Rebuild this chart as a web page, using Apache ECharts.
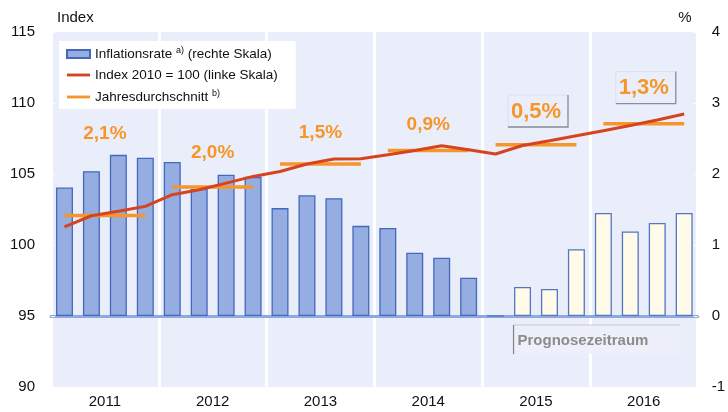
<!DOCTYPE html>
<html>
<head>
<meta charset="utf-8">
<script src="https://cdn.jsdelivr.net/npm/echarts@6/dist/echarts.min.js"></script>
<style>
  html, body { margin: 0; padding: 0; background: #fff; }
  #chart { width: 728px; height: 412px; }
</style>
</head>
<body>
<div id="chart"></div>
<script>
// Quartale 2011 - 2016
var quarters = [
  '2011 Q1', '2011 Q2', '2011 Q3', '2011 Q4',
  '2012 Q1', '2012 Q2', '2012 Q3', '2012 Q4',
  '2013 Q1', '2013 Q2', '2013 Q3', '2013 Q4',
  '2014 Q1', '2014 Q2', '2014 Q3', '2014 Q4',
  '2015 Q1', '2015 Q2', '2015 Q3', '2015 Q4',
  '2016 Q1', '2016 Q2', '2016 Q3', '2016 Q4'
];
var years = ['2011', '2012', '2013', '2014', '2015', '2016'];

// Inflationsrate in % (rechte Skala)
var inflation = [1.81, 2.04, 2.27, 2.23, 2.17, 1.79, 1.99, 1.96, 1.52, 1.70, 1.66, 1.27,
                 1.24, 0.89, 0.82, 0.54, 0, 0.41, 0.38, 0.94, 1.45, 1.19, 1.31, 1.45];
// Index 2010 = 100 (linke Skala)
var indexValues = [101.27, 102.06, 102.37, 102.72, 103.54, 103.89, 104.36, 104.83,
                   105.18, 105.70, 106.05, 106.08, 106.35, 106.66, 106.99, 106.71,
                   106.41, 107.01, 107.34, 107.70, 108.05, 108.42, 108.80, 109.22];
// Jahresdurchschnitt des Index
var yearAvg = [102.08, 104.08, 105.70, 106.66, 107.06, 108.54];
var avgLabels = ['2,1%', '2,0%', '1,5%', '0,9%', '0,5%', '1,3%'];
var avgLabelAt = [107.8, 106.5, 107.9, 108.5, 109.4, 111.05]; // Höhe der Beschriftung (linke Skala)
var forecastStart = '2015 Q1';

var leftTicks = [90, 95, 100, 105, 110, 115];
var rightTicks = [-1, 0, 1, 2, 3, 4];

var FONT = 'Arial, "Liberation Sans", sans-serif';
var ORANGE = '#F6962A';
var RED = '#D6431F';
var BG = '#EAEEFA';
var LINE_ICON = 'path://M0,0h24v3h-24z';

var chart = echarts.init(document.getElementById('chart'));

var fc = quarters.indexOf(forecastStart);
var barData = inflation.map(function (v, i) {
  if (i < fc) return v;
  return { value: v, itemStyle: { color: '#FFFBE8', borderColor: '#5476C4' } };
});

// je Jahr ein waagerechter Strich
var avgSeries = years.map(function (y, i) {
  var d = quarters.map(function (q, j) {
    return Math.floor(j / 4) === i ? yearAvg[i] : null;
  });
  return {
    name: 'Jahresdurchschnitt',
    type: 'line',
    data: d,
    symbol: 'none',
    color: ORANGE,
    lineStyle: { color: ORANGE, width: 3.5 },
    z: 3
  };
});

var legendText = {
  'Inflationsrate': '{t|Inflationsrate }{s|a)}{t| (rechte Skala)}',
  'Index 2010 = 100': '{t|Index 2010 = 100 (linke Skala)}',
  'Jahresdurchschnitt': '{t|Jahresdurchschnitt }{s|b)}'
};

var option = {
  animation: false,
  textStyle: { fontFamily: FONT },
  grid: {
    left: 51, right: 27, top: 32, bottom: 25,
    show: true, backgroundColor: BG, borderWidth: 0
  },
  legend: {
    data: [
      { name: 'Inflationsrate', icon: 'rect' },
      { name: 'Index 2010 = 100', icon: LINE_ICON },
      { name: 'Jahresdurchschnitt', icon: LINE_ICON }
    ],
    orient: 'vertical',
    left: 59, top: 41,
    padding: [5, 18, 5, 7],
    backgroundColor: '#fff',
    itemWidth: 23, itemHeight: 8, itemGap: 7,
    selectedMode: false,
    formatter: function (name) { return legendText[name]; },
    textStyle: {
      rich: {
        t: { fontSize: 13.5, color: '#111', lineHeight: 16, fontFamily: FONT },
        s: { fontSize: 9, color: '#111', lineHeight: 9, verticalAlign: 'top', fontFamily: FONT }
      }
    }
  },
  xAxis: [
    {
      type: 'category',
      data: quarters,
      axisLine: { onZero: true, onZeroAxisIndex: 1, lineStyle: { color: '#8FA8DD', width: 3 } },
      axisTick: { interval: 3, length: 4, lineStyle: { color: '#8FA8DD', width: 2 } },
      axisLabel: { show: false },
      splitLine: { show: false }
    },
    {
      type: 'category',
      data: years,
      position: 'bottom',
      axisLine: { show: false },
      axisTick: { show: false },
      axisLabel: { fontSize: 15, color: '#111', margin: 7 },
      splitLine: { show: true, lineStyle: { color: '#fff', width: 3 } }
    }
  ],
  yAxis: [
    {
      type: 'value',
      min: leftTicks[0], max: leftTicks[leftTicks.length - 1], interval: 5,
      position: 'left',
      name: 'Index',
      nameGap: 14,
      nameTextStyle: { fontSize: 15, color: '#111', align: 'left', verticalAlign: 'middle', padding: [0, 0, 0, 6] },
      axisLine: { show: false },
      axisTick: { show: true, inside: true, length: 4, lineStyle: { color: '#fff' } },
      axisLabel: { fontSize: 15, color: '#111', margin: 16 },
      splitLine: { show: false }
    },
    {
      type: 'value',
      min: rightTicks[0], max: rightTicks[rightTicks.length - 1], interval: 1,
      position: 'right',
      name: '%',
      nameGap: 14,
      nameTextStyle: { fontSize: 15, color: '#111', align: 'right', verticalAlign: 'middle', padding: [0, 6, 0, 0] },
      axisLine: { show: false },
      axisTick: { show: true, inside: true, length: 4, lineStyle: { color: '#fff' } },
      axisLabel: { fontSize: 15, color: '#111', margin: 14 },
      splitLine: { show: false }
    }
  ],
  series: [
    {
      name: 'Inflationsrate',
      type: 'bar',
      xAxisIndex: 0,
      yAxisIndex: 1,
      data: barData,
      barWidth: 17,
      itemStyle: { color: '#95ADE0', borderColor: '#4468BE', borderWidth: 1.3 },
      z: 2
    }
  ].concat(avgSeries).concat([
    {
      name: 'Index 2010 = 100',
      type: 'line',
      xAxisIndex: 0,
      yAxisIndex: 0,
      data: indexValues,
      symbol: 'none',
      color: RED,
      lineStyle: { color: RED, width: 3 },
      z: 4
    }
  ])
};

chart.setOption(option);

// Prozentangaben über den Jahresdurchschnitten
var graphics = [];
years.forEach(function (y, i) {
  var cx = chart.convertToPixel({ xAxisIndex: 1 }, y);
  var cy = chart.convertToPixel({ yAxisIndex: 0 }, avgLabelAt[i]);
  var forecast = i >= Math.floor(fc / 4);
  if (forecast) {
    var bx = cx - 28, by = cy - 16.5, bw = 60, bh = 32;
    graphics.push({
      type: 'rect', z: 10,
      shape: { x: bx, y: by, width: bw, height: bh },
      style: { fill: 'none', stroke: '#dce0ea', lineWidth: 1 }
    });
    graphics.push({
      type: 'polyline', z: 10,
      shape: { points: [[bx + bw, by], [bx + bw, by + bh], [bx, by + bh]] },
      style: { fill: 'none', stroke: '#8a8e98', lineWidth: 1.3 }
    });
  }
  graphics.push({
    type: 'text', z: 11,
    x: cx, y: cy,
    style: {
      text: avgLabels[i],
      align: 'center', verticalAlign: 'middle',
      fill: ORANGE,
      font: 'bold ' + (forecast ? 22 : 19) + 'px ' + FONT
    }
  });
});

// Kasten "Prognosezeitraum"
var px0 = chart.convertToPixel({ xAxisIndex: 0 }, quarters[fc + 1]) - 9;
var px1 = chart.convertToPixel({ xAxisIndex: 0 }, quarters[quarters.length - 1]) - 4;
var py0 = chart.convertToPixel({ yAxisIndex: 0 }, 95) + 9;
var ph = 29;
graphics.push({
  type: 'rect', z: 5,
  shape: { x: px0, y: py0, width: px1 - px0, height: ph },
  style: { fill: '#EDF0FB', stroke: null }
});
graphics.push({
  type: 'polyline', z: 6,
  shape: { points: [[px0, py0], [px1, py0]] },
  style: { fill: 'none', stroke: '#c6cad4', lineWidth: 1 }
});
graphics.push({
  type: 'line', z: 6,
  shape: { x1: px0, y1: py0, x2: px0, y2: py0 + ph },
  style: { stroke: '#7e828b', lineWidth: 1.2 }
});
graphics.push({
  type: 'text', z: 7,
  x: px0 + 4, y: py0 + ph / 2 + 1,
  style: {
    text: 'Prognosezeitraum',
    align: 'left', verticalAlign: 'middle',
    fill: '#8c8c8c',
    font: 'bold 15px ' + FONT
  }
});

chart.setOption({ graphic: graphics });
</script>
</body>
</html>
